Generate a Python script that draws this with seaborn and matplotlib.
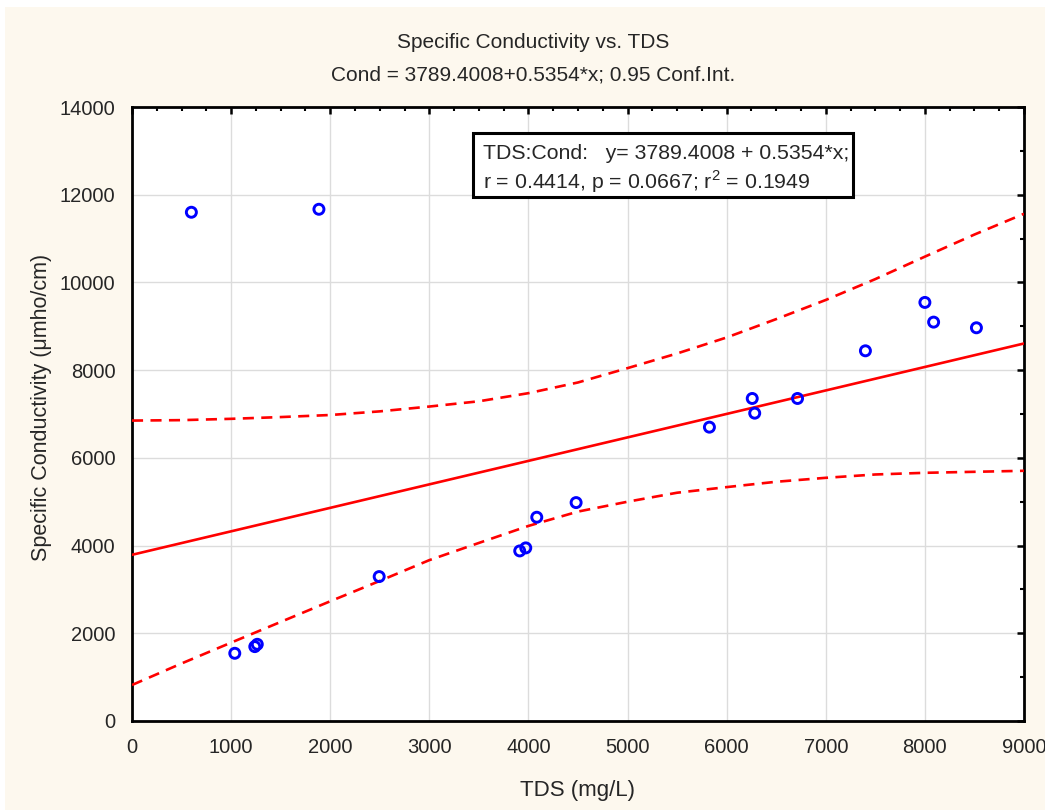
import matplotlib
matplotlib.use("Agg")
import matplotlib.pyplot as plt
from matplotlib.patches import Rectangle
from matplotlib.ticker import MultipleLocator
import seaborn as sns
import pandas as pd

# ---- data ----
tds = [599, 1886, 1037, 1239, 1264, 2494, 3912, 3973, 4084, 4481,
       5826, 6258, 6283, 6715, 7400, 8000, 8088, 8520]
cond = [11600, 11668, 1544, 1696, 1749, 3293, 3878, 3947, 4646, 4980,
        6700, 7354, 7019, 7354, 8441, 9544, 9095, 8966]

intercept = 3789.4008
slope = 0.5354

band_x = [0, 500, 1000, 1500, 2000, 2500, 3000, 3500, 4000, 4500,
          5000, 5500, 6000, 6500, 7000, 7500, 8000, 8500, 9000]
band_upper = [6850, 6860, 6890, 6930, 6977, 7060, 7170, 7290, 7475, 7719,
              8046, 8380, 8745, 9164, 9600, 10076, 10588, 11092, 11565]
band_lower = [821, 1312, 1787, 2259, 2730, 3194, 3668, 4060, 4448, 4775,
              5000, 5205, 5333, 5455, 5545, 5621, 5659, 5682, 5705]

x_ticks = [0, 1000, 2000, 3000, 4000, 5000, 6000, 7000, 8000, 9000]
y_ticks = [0, 2000, 4000, 6000, 8000, 10000, 12000, 14000]

title1 = "Specific Conductivity vs. TDS"
title2 = "Cond = 3789.4008+0.5354*x; 0.95 Conf.Int."
box_line1 = "TDS:Cond:   y= 3789.4008 + 0.5354*x;"
box_line2 = "r = 0.4414, p = 0.0667; r$^2$ = 0.1949"
xlabel = "TDS (mg/L)"
ylabel = "Specific Conductivity (\u03bcmho/cm)"

# ---- style ----
sns.set_style("white")
plt.rcParams["font.family"] = ["Liberation Sans", "DejaVu Sans"]
plt.rcParams["mathtext.fontset"] = "custom"
plt.rcParams["mathtext.rm"] = "Liberation Sans"

W, H = 1045, 810
fig = plt.figure(figsize=(W / 100, H / 100), dpi=100)
fig.patch.set_facecolor("white")
fig.patches.append(Rectangle((5 / W, 0), 1 - 5 / W, 1 - 7 / H,
                             transform=fig.transFigure, facecolor="#fdf8ee",
                             edgecolor="none", zorder=-10))

ax = fig.add_axes([132 / W, 89 / H, 892 / W, 614 / H])
ax.set_facecolor("white")

df_pts = pd.DataFrame({"TDS": tds, "Cond": cond})
line_x = [band_x[0], band_x[-1]]
df_line = pd.DataFrame({"x": line_x, "y": [intercept + slope * v for v in line_x]})
df_band = pd.DataFrame({"x": band_x, "upper": band_upper, "lower": band_lower})

sns.lineplot(data=df_line, x="x", y="y", color="red", lw=1.9, ax=ax, zorder=3)
sns.lineplot(data=df_band, x="x", y="upper", color="red", lw=1.9,
             ax=ax, zorder=3).lines[-1].set_dashes((4.2, 2.8))
sns.lineplot(data=df_band, x="x", y="lower", color="red", lw=1.9,
             ax=ax, zorder=3).lines[-1].set_dashes((4.2, 2.8))
sns.scatterplot(data=df_pts, x="TDS", y="Cond", marker="o", s=52,
                facecolors="none", edgecolors="blue", linewidths=2.1,
                ax=ax, zorder=4)

ax.set_xlim(0, 9000)
ax.set_ylim(0, 14000)
ax.set_xticks(x_ticks)
ax.set_yticks(y_ticks)
ax.xaxis.set_minor_locator(MultipleLocator(250))
ax.yaxis.set_minor_locator(MultipleLocator(1000))
ax.grid(True, which="major", color="#dcdcdc", lw=1)
ax.set_axisbelow(True)
for sp in ax.spines.values():
    sp.set_visible(True)
    sp.set_color("black")
    sp.set_linewidth(2.0)
ax.tick_params(which="both", direction="in", top=True, right=True,
               color="black", labelsize=14.5)
ax.tick_params(which="major", length=5, width=1.8, pad=12)
ax.tick_params(which="minor", length=3, width=1.5)
ax.set_xlabel(xlabel, fontsize=16, labelpad=17)
ax.set_ylabel(ylabel, fontsize=15.5, labelpad=4)
ax.yaxis.set_label_coords(-0.09, 0.51)

fig.text(533 / W, 1 - 42 / H, title1, ha="center", va="center", fontsize=15)
fig.text(533 / W, 1 - 75 / H, title2, ha="center", va="center", fontsize=15)

fig.patches.append(Rectangle((473 / W, 1 - 197 / H), 380 / W, 64 / H,
                             transform=fig.transFigure, facecolor="white",
                             edgecolor="black", lw=2.2, zorder=5))
fig.text(483 / W, 1 - 159 / H, box_line1, ha="left", va="baseline",
         fontsize=15.3, zorder=6)
fig.text(483 / W, 1 - 189 / H, box_line2, ha="left", va="baseline",
         fontsize=15.3, zorder=6)

fig.savefig("out.png", dpi=100)
